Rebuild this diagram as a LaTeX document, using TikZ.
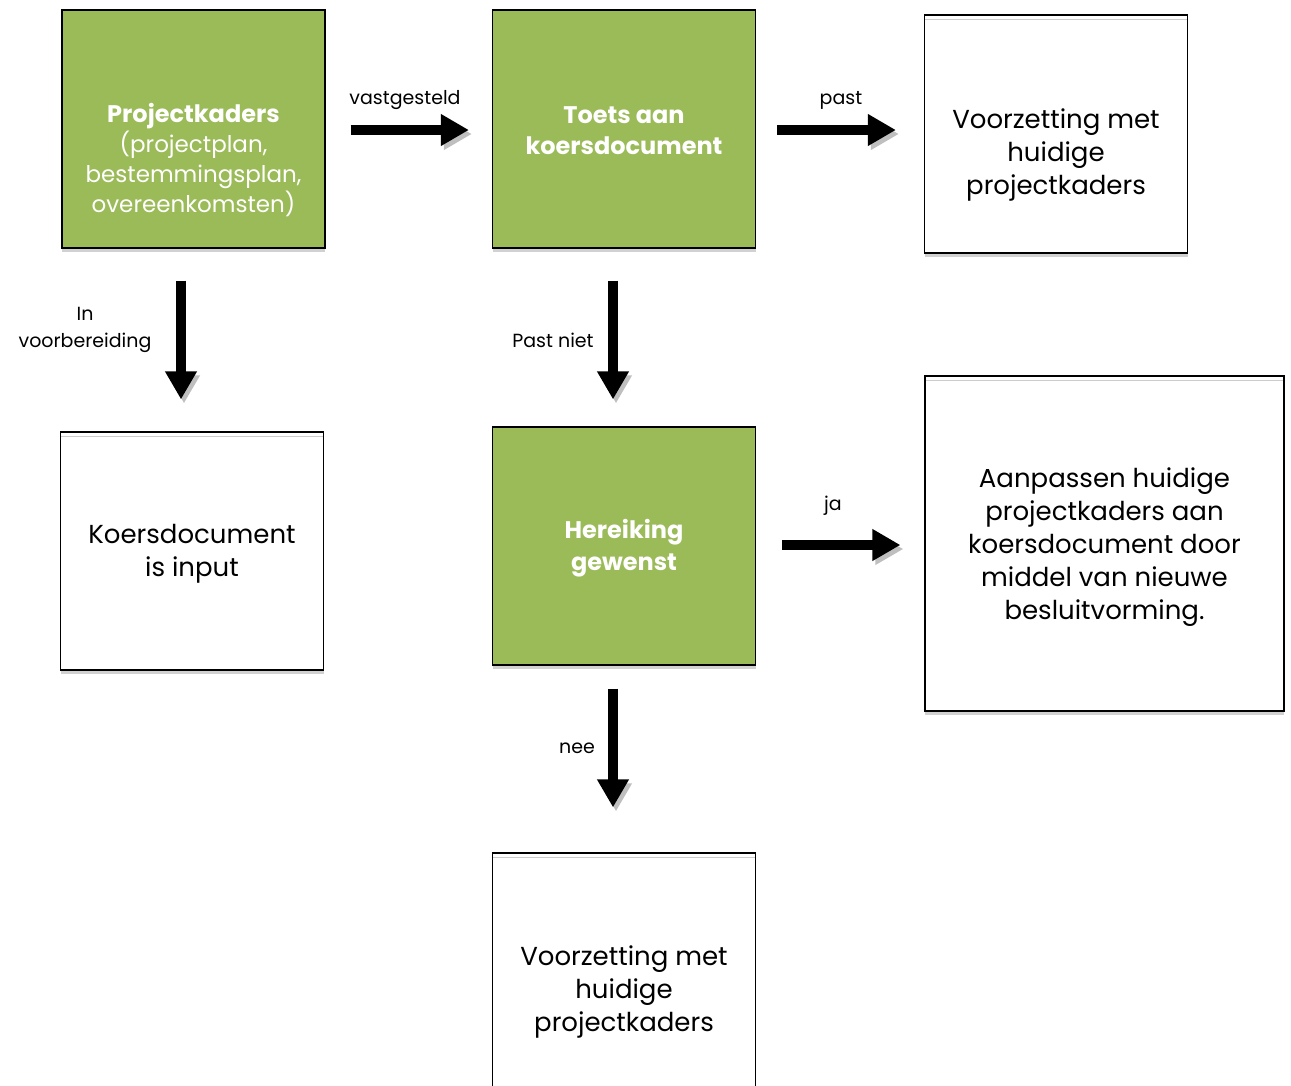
\documentclass[tikz,border=0pt]{standalone}
\usepackage{fontspec}
\setmainfont{Poppins}
\usetikzlibrary{arrows.meta,shadows}
\definecolor{boxgreen}{HTML}{9BBB59}
\begin{document}
\begin{tikzpicture}[x=1pt,y=-1pt,
 box/.style={draw=black,line width=1.2pt,minimum width=263pt,minimum height=238pt,inner sep=0pt,align=center,
   drop shadow={shadow xshift=0pt,shadow yshift=-4pt,fill=black!18,opacity=1}},
 greenbox/.style={box,fill=boxgreen,text=white},
 whitebox/.style={box,fill=white,path picture={\draw[black!20,line width=1pt]([yshift=-4pt]path picture bounding box.north west)--([yshift=-4pt]path picture bounding box.north east);}},
 txt/.style={align=center,inner sep=0pt,yshift=-3pt,font=\fontsize{26}{33}\selectfont},
 gtxt/.style={align=center,inner sep=0pt,yshift=-2pt,text=white,font=\fontsize{24}{31}\selectfont},
 lbl/.style={align=center,inner sep=0pt,yshift=-3pt,font=\fontsize{19}{27}\selectfont},
 blockarrow/.style={line width=10pt,-{Triangle[length=28pt,width=30pt]},
   preaction={draw=black!25,transform canvas={shift={(3pt,-4pt)}}}},
]
\useasboundingbox (0,0) rectangle (1291,1085);
\clip (0,0) rectangle (1291,1085);

% boxes
\node[greenbox] (pk) at (193.5,129) {};
\node[gtxt,font=\fontsize{23}{30}\selectfont] (pkt) at (193.5,158) {{\fontsize{24}{30}\selectfont\textbf{Projectkaders}}\\(projectplan,\\bestemmingsplan,\\overeenkomsten)};
\node[greenbox] (toets) at (624,129) {};
\node[gtxt] (toetst) at (624,129) {\textbf{Toets aan}\\\textbf{koersdocument}};
\node[whitebox] (vz1) at (1056,134) {};
\node[txt] (vz1t) at (1056,152) {Voorzetting met\\huidige\\projectkaders};
\node[whitebox] (kd) at (192,551) {};
\node[txt] (kdt) at (192,551) {Koersdocument\\is input};
\node[greenbox] (her) at (624,546) {};
\node[gtxt,font=\fontsize{24}{32}\selectfont] (hert) at (624,546) {\textbf{Hereiking}\\\textbf{gewenst}};
\node[whitebox,minimum width=359pt,minimum height=335pt] (aan) at (1104.5,543.5) {};
\node[txt] (aant) at (1104.5,544) {Aanpassen huidige\\projectkaders aan\\koersdocument door\\middel van nieuwe\\besluitvorming.};
\node[whitebox,minimum height=272pt] (vz2) at (624,989) {};
\node[txt] (vz2t) at (624,989) {Voorzetting met\\huidige\\projectkaders};

% arrows
\draw[blockarrow] ([xshift=25pt,yshift=-1pt]pk.east) -- ([xshift=-23pt,yshift=-1pt]toets.west);
\draw[blockarrow] ([xshift=21pt,yshift=-1pt]toets.east) -- ([xshift=-28pt,yshift=4pt]vz1.west);
\draw[blockarrow] ([xshift=-12.5pt,yshift=-32pt]pk.south) -- ([xshift=-11pt,yshift=32pt]kd.north);
\draw[blockarrow] ([xshift=-11pt,yshift=-32pt]toets.south) -- ([xshift=-11pt,yshift=27pt]her.north);
\draw[blockarrow] ([xshift=26pt,yshift=1pt]her.east) -- ([xshift=-24pt,yshift=-1.5pt]aan.west);
\draw[blockarrow] ([xshift=-11pt,yshift=-23pt]her.south) -- ([xshift=-11pt,yshift=45pt]vz2.north);

% labels
\node[lbl] (l1) at (405,97) {vastgesteld};
\node[lbl] (l2) at (841,97) {past};
\node[lbl] (l3) at (85,327) {In\\voorbereiding};
\node[lbl] (l4) at (553,337) {Past niet};
\node[lbl] (l5) at (833,503) {ja};
\node[lbl] (l6) at (577,745) {nee};
\end{tikzpicture}
\end{document}
